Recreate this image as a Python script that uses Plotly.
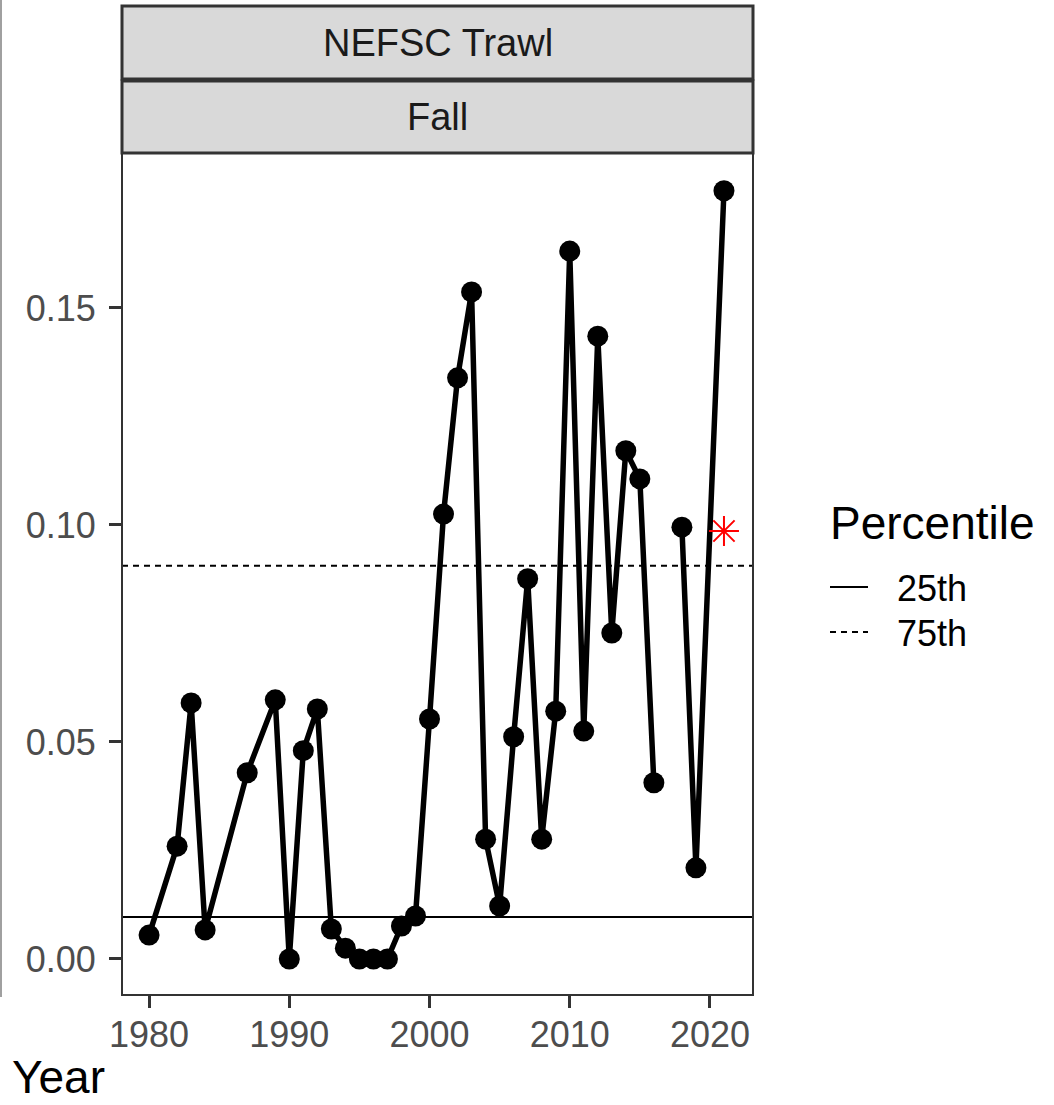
import plotly.graph_objects as go

# Survey index, NEFSC fall trawl
years = [1980, 1982, 1983, 1984, 1987, 1989, 1990, 1991, 1992, 1993, 1994, 1995,
         1996, 1997, 1998, 1999, 2000, 2001, 2002, 2003, 2004, 2005, 2006, 2007,
         2008, 2009, 2010, 2011, 2012, 2013, 2014, 2015, 2016, 2017, 2018, 2019,
         2021]
values = [0.0055, 0.0260, 0.0590, 0.0067, 0.0429, 0.0597, 0.0000, 0.0480, 0.0576,
          0.0069, 0.0025, 0.0000, 0.0000, 0.0000, 0.0076, 0.0099, 0.0553, 0.1025,
          0.1339, 0.1537, 0.0276, 0.0122, 0.0512, 0.0876, 0.0276, 0.0571, 0.1631,
          0.0525, 0.1435, 0.0751, 0.1171, 0.1106, 0.0406, None, 0.0995, 0.0210,
          0.1770]

# Percentile reference lines
pct_labels = ["25th", "75th"]
pct_values = [0.0097, 0.0906]
pct_dash = ["solid", "6px,5px"]

# Highlighted current-year value
flag_year = [2021]
flag_value = [0.0986]

x_range = [1978.07, 2023.07]
y_range = [-0.0083, 0.1857]
x_ticks = [1980, 1990, 2000, 2010, 2020]
y_ticks = [0, 0.05, 0.10, 0.15]

W, H = 1054, 1105
FONT = "Liberation Sans, Arial, sans-serif"

# Panel placement in pixels
px_l, px_r, py_t, py_b = 122, 753, 153, 995


def fx(p):
    return p / W


def fy(p):
    return 1 - p / H


fig = go.Figure()

for lab, val, dash in zip(pct_labels, pct_values, pct_dash):
    fig.add_trace(go.Scatter(
        x=x_range, y=[val, val], mode="lines", name=lab,
        line=dict(color="black", width=2, dash=dash),
        showlegend=False, hoverinfo="skip",
    ))

fig.add_trace(go.Scatter(
    x=years, y=values, mode="lines+markers", connectgaps=False,
    line=dict(color="black", width=5.5),
    marker=dict(color="black", size=21),
    showlegend=False,
))

fig.add_trace(go.Scatter(
    x=flag_year, y=flag_value, mode="markers",
    marker=dict(symbol="asterisk-open", size=25, color="red",
                line=dict(color="red", width=2)),
    showlegend=False,
))

axis_common = dict(
    showgrid=False, zeroline=False, showline=False, automargin=False,
    ticks="outside", ticklen=12, tickwidth=3, tickcolor="#333333",
    tickfont=dict(family=FONT, size=36, color="#4d4d4d"),
)

fig.update_xaxes(
    range=x_range, domain=[fx(px_l), fx(px_r)],
    tickvals=x_ticks, ticklabelstandoff=-4, **axis_common,
)
fig.update_yaxes(
    range=y_range, domain=[fy(py_b), fy(py_t)],
    tickvals=y_ticks, tickformat=".2f", ticklabelstandoff=6, **axis_common,
)

shapes = [
    # panel border
    dict(type="rect", xref="paper", yref="paper",
         x0=fx(px_l), x1=fx(px_r), y0=fy(py_b), y1=fy(py_t),
         line=dict(color="#333333", width=2), fillcolor="rgba(0,0,0,0)",
         layer="above"),
    # facet strips
    dict(type="rect", xref="paper", yref="paper",
         x0=fx(px_l), x1=fx(px_r), y0=fy(79), y1=fy(6),
         line=dict(color="#333333", width=3), fillcolor="#d9d9d9"),
    dict(type="rect", xref="paper", yref="paper",
         x0=fx(px_l), x1=fx(px_r), y0=fy(py_t), y1=fy(81),
         line=dict(color="#333333", width=3), fillcolor="#d9d9d9"),
    # left edge rule
    dict(type="line", xref="paper", yref="paper",
         x0=fx(1), x1=fx(1), y0=fy(997), y1=1,
         line=dict(color="#808080", width=1.5)),
]

annotations = [
    dict(text="NEFSC Trawl", xref="paper", yref="paper",
         x=fx((px_l + px_r) / 2), y=fy(43), showarrow=False,
         xanchor="center", yanchor="middle",
         font=dict(family=FONT, size=38, color="#1a1a1a")),
    dict(text="Fall", xref="paper", yref="paper",
         x=fx((px_l + px_r) / 2), y=fy(117), showarrow=False,
         xanchor="center", yanchor="middle",
         font=dict(family=FONT, size=38, color="#1a1a1a")),
    dict(text="Year", xref="paper", yref="paper",
         x=fx(10), y=fy(1105), showarrow=False,
         xanchor="left", yanchor="bottom",
         font=dict(family=FONT, size=46, color="black")),
]

# Legend for the percentile lines
legend_x0, legend_key_w, legend_text_x = 830, 38, 895
legend_rows_y = [587, 632]
annotations.append(dict(
    text="Percentile", xref="paper", yref="paper",
    x=fx(legend_x0 - 2), y=fy(523), showarrow=False,
    xanchor="left", yanchor="middle",
    font=dict(family=FONT, size=46, color="black"),
))
for lab, dash, ry in zip(pct_labels, pct_dash, legend_rows_y):
    shapes.append(dict(
        type="line", xref="paper", yref="paper",
        x0=fx(legend_x0), x1=fx(legend_x0 + legend_key_w), y0=fy(ry), y1=fy(ry),
        line=dict(color="black", width=2, dash=dash),
    ))
    annotations.append(dict(
        text=lab, xref="paper", yref="paper",
        x=fx(legend_text_x), y=fy(ry + 1), showarrow=False,
        xanchor="left", yanchor="middle",
        font=dict(family=FONT, size=36, color="black"),
    ))

fig.update_layout(
    width=W, height=H,
    margin=dict(l=0, r=0, t=0, b=0),
    paper_bgcolor="white", plot_bgcolor="white",
    shapes=shapes, annotations=annotations,
    showlegend=False,
)

fig.write_html("out.html")
